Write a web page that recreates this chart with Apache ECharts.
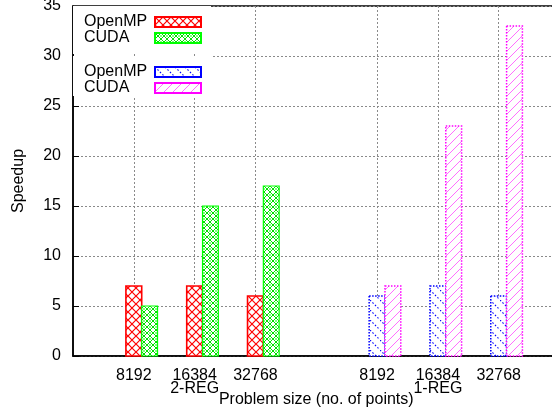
<!DOCTYPE html>
<html><head><meta charset="utf-8">
<script src="https://cdn.jsdelivr.net/npm/echarts@6/dist/echarts.min.js"></script>
<style>html,body{margin:0;padding:0;background:#fff}#c{width:552px;height:410px}</style>
</head><body><div id="c"></div>
<script>
// ---- data ----
const sizes = ['8192', '16384', '32768'];
const groupNames = ['2-REG', '1-REG'];
const openmp2Reg = [7, 7, 6];
const cuda2Reg = [5, 15, 17];
const openmp1Reg = [6, 7, 6];
const cuda1Reg = [7, 23, 33];
const yTicks = [0, 5, 10, 15, 20, 25, 30, 35];

// category slots: empty, group 2-REG, empty, group 1-REG, empty
const categories = ['', ...sizes, '', ...sizes, ''];
const group2Start = 1, group1Start = 5;
const groupLabelAt = {2: groupNames[0], 6: groupNames[1]};

const FONT = '"Liberation Sans", Arial, Helvetica, sans-serif';

function makePattern(size, draw) {
  const c = document.createElement('canvas');
  c.width = size; c.height = size;
  const g = c.getContext('2d');
  g.fillStyle = '#fff'; g.fillRect(0, 0, size, size);
  draw(g, size);
  return {image: c, repeat: 'repeat'};
}
const redPat = makePattern(8, (g, s) => {
  g.strokeStyle = '#ff0000'; g.lineWidth = 1.2;
  g.beginPath(); g.moveTo(-1, -1); g.lineTo(s + 1, s + 1); g.moveTo(s + 1, -1); g.lineTo(-1, s + 1); g.stroke();
});
const greenPat = makePattern(6, (g, s) => {
  g.strokeStyle = '#00e000'; g.lineWidth = 1;
  g.beginPath(); g.moveTo(-1, -1); g.lineTo(s + 1, s + 1); g.moveTo(s + 1, -1); g.lineTo(-1, s + 1); g.stroke();
  g.fillStyle = '#00ff00';
  g.fillRect(0, 2.5, 1, 1); g.fillRect(5, 2.5, 1, 1);
});
const bluePat = makePattern(10, (g, s) => {
  g.strokeStyle = '#0000ff'; g.lineWidth = 1.1; g.setLineDash([1.5, 2]);
  g.beginPath(); g.moveTo(0, 0); g.lineTo(s, s); g.stroke();
});
const magentaPat = makePattern(9, (g, s) => {
  g.strokeStyle = '#ff70ff'; g.lineWidth = 1;
  g.beginPath(); g.moveTo(-1, s + 1); g.lineTo(s + 1, -1); g.stroke();
});

const styles = {
  omp2: {fill: redPat, stroke: '#ff0000', lineWidth: 1.6, lineDash: null},
  cuda2: {fill: greenPat, stroke: '#00ff00', lineWidth: 1.2, lineDash: null},
  omp1: {fill: bluePat, stroke: '#0000ff', lineWidth: 1.5, lineDash: [1.5, 1.5]},
  cuda1: {fill: magentaPat, stroke: '#ff00ff', lineWidth: 1.5, lineDash: [1.5, 1.5]}
};

function makeRender(slot, st) {
  return function (params, api) {
    const x = api.value(0), y = api.value(1);
    const unit = api.size([1, 0])[0];
    const w = unit * 0.26;
    const top = api.coord([x, y]);
    const base = api.coord([x, 0]);
    const left = top[0] - w / 2 + slot * w;
    return {
      type: 'rect',
      shape: {x: left, y: top[1], width: w, height: base[1] - top[1]},
      style: {fill: st.fill, stroke: st.stroke, lineWidth: st.lineWidth, lineDash: st.lineDash}
    };
  };
}
function series(name, values, start, slot, st) {
  return {
    type: 'custom', name: name,
    data: values.map((v, i) => [start + i, v]),
    encode: {x: 0, y: 1},
    renderItem: makeRender(slot, st),
    itemStyle: {color: st.fill, borderColor: st.stroke, borderWidth: st.lineWidth,
      borderType: st.lineDash ? 'dotted' : 'solid'}
  };
}

const legendCommon = {
  orient: 'vertical', align: 'right', icon: 'rect', itemWidth: 46, itemHeight: 10, itemGap: 0,
  selectedMode: false, backgroundColor: '#fff', left: 73,
  formatter: n => '{t|' + n.split('|')[0] + '}',
  textStyle: {rich: {t: {width: 66, align: 'left', fontSize: 16, lineHeight: 17, fontFamily: FONT, color: '#000'}}}
};

const gridLine = {color: '#8a8a8a', width: 1, type: [2, 2]};

const chart = echarts.init(document.getElementById('c'), null, {renderer: 'canvas'});
chart.setOption({
  animation: false,
  backgroundColor: '#fff',
  grid: {left: 73, top: 6, right: -7.5, bottom: 54, outerBoundsMode: 'none', containLabel: false,
    show: true, borderColor: '#000', borderWidth: 1.5, backgroundColor: 'transparent'},
  legend: [
    Object.assign({}, legendCommon, {top: 6, padding: [8, 9, 8, 11],
      data: ['OpenMP|2-REG', 'CUDA|2-REG']}),
    Object.assign({}, legendCommon, {top: 56, padding: [8, 9, 0, 11],
      data: ['OpenMP|1-REG', 'CUDA|1-REG']})
  ],
  xAxis: {
    type: 'category', data: categories, boundaryGap: false,
    name: 'Problem size (no. of points)', nameLocation: 'middle', nameGap: 36, nameMoveOverlap: false,
    nameTextStyle: {fontSize: 16, fontFamily: FONT, color: '#000'},
    axisLine: {lineStyle: {color: '#000', width: 1.5}},
    axisTick: {show: false},
    axisLabel: {interval: 0, margin: 13, fontSize: 16, lineHeight: 13, fontFamily: FONT, color: '#000',
      formatter: (v, i) => groupLabelAt[i] ? v + '\n' + groupLabelAt[i] : v},
    splitLine: {show: true, interval: (i, v) => v !== '', lineStyle: gridLine}
  },
  yAxis: {
    type: 'value', min: yTicks[0], max: yTicks[yTicks.length - 1], interval: yTicks[1] - yTicks[0],
    name: 'Speedup', nameLocation: 'middle', nameGap: 46, nameMoveOverlap: false,
    nameTextStyle: {fontSize: 16, fontFamily: FONT, color: '#000'},
    axisLine: {show: true, lineStyle: {color: '#000', width: 1.5}},
    axisTick: {show: true, inside: true, length: 6, lineStyle: {color: '#000', width: 1}},
    axisLabel: {margin: 12, fontSize: 16, fontFamily: FONT, color: '#000'},
    splitLine: {show: true, lineStyle: gridLine}
  },
  series: [
    series('OpenMP|2-REG', openmp2Reg, group2Start, 0, styles.omp2),
    series('CUDA|2-REG', cuda2Reg, group2Start, 1, styles.cuda2),
    series('OpenMP|1-REG', openmp1Reg, group1Start, 0, styles.omp1),
    series('CUDA|1-REG', cuda1Reg, group1Start, 1, styles.cuda1)
  ]
});
</script></body></html>
